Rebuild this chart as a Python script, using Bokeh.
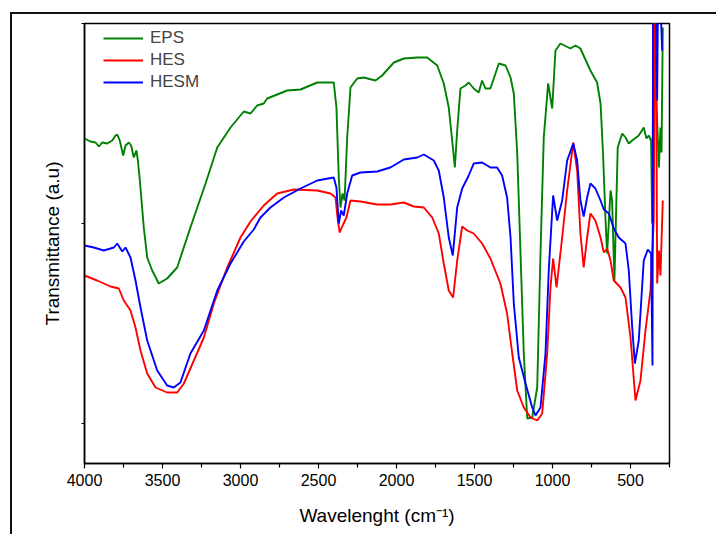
from bokeh.plotting import figure
from bokeh.models import Range1d, FixedTicker, Legend, CustomLabelingPolicy
from bokeh.embed import file_html
from bokeh.resources import INLINE

# ---- data (wavenumber cm-1, transmittance a.u.) ----
eps_wn = [4000, 3962, 3929, 3908, 3887, 3855, 3822, 3801, 3790, 3774, 3752, 3737, 3716, 3701, 3684, 3667,
          3658, 3645, 3620, 3598, 3566, 3524, 3470, 3406, 3321, 3224, 3149, 3064, 2979, 2936, 2893, 2851,
          2829, 2701, 2615, 2508, 2402, 2385, 2370, 2359, 2346, 2333, 2316, 2295, 2252, 2210, 2135, 2092,
          2017, 1953, 1867, 1803, 1739, 1697, 1665, 1643, 1626, 1611, 1590, 1558, 1537, 1505, 1473, 1451,
          1430, 1398, 1344, 1301, 1269, 1248, 1226, 1205, 1184, 1162, 1130, 1098, 1077, 1056, 1028, 1002,
          981, 949, 885, 853, 821, 757, 714, 692, 676, 660, 650, 628, 618, 603, 582, 553, 532, 511, 489,
          447, 415, 398, 383, 368, 361, 351, 343, 329, 318, 308, 301, 293]
eps_t = [28.5, 28.2, 28.1, 27.7, 28.1, 28.0, 28.3, 28.8, 28.9, 28.3, 26.8, 27.8, 28.1, 27.8, 26.6, 27.3,
         26.3, 24.3, 19.6, 16.6, 15.3, 14.0, 14.5, 15.6, 19.6, 24.0, 27.6, 29.6, 31.2, 31.0, 31.8, 32.0,
         32.5, 33.3, 33.4, 34.1, 34.1, 31.6, 24.6, 21.6, 23.0, 22.3, 28.6, 33.6, 34.5, 34.6, 34.3, 34.8,
         36.1, 36.5, 36.6, 36.6, 35.8, 34.0, 31.6, 28.3, 25.6, 29.3, 33.5, 33.8, 34.1, 33.5, 33.1, 34.3,
         33.5, 33.5, 36.0, 35.8, 34.6, 33.0, 27.0, 17.0, 7.0, 0.5, 0.6, 3.6, 17.0, 28.6, 34.0, 31.5,
         37.3, 38.0, 37.5, 37.8, 37.5, 35.3, 34.1, 32.0, 27.0, 20.3, 17.0, 23.3, 22.3, 14.3, 27.6, 29.0,
         28.6, 28.0, 28.3, 28.8, 29.6, 28.5, 28.8, 28.3, 20.0, 42.0, 36.0, 30.3, 25.6, 29.6, 27.1, 39.6]

hes_wn = [4000, 3919, 3833, 3780, 3748, 3705, 3673, 3641, 3598, 3545, 3470, 3406, 3363, 3299, 3235, 3171,
          3085, 3000, 2936, 2851, 2765, 2658, 2508, 2423, 2391, 2376, 2364, 2342, 2321, 2295, 2231, 2124,
          2039, 1953, 1889, 1825, 1771, 1729, 1697, 1665, 1637, 1611, 1579, 1547, 1505, 1451, 1398, 1334,
          1291, 1258, 1226, 1184, 1141, 1098, 1066, 1034, 1013, 996, 974, 938, 906, 867, 842, 821, 800,
          778, 757, 725, 692, 671, 650, 628, 607, 564, 532, 500, 468, 436, 404, 372, 351, 343, 337, 334,
          329, 318, 308, 293]
hes_t = [14.8, 14.3, 13.7, 13.5, 12.3, 11.3, 9.6, 7.3, 5.0, 3.6, 3.1, 3.1, 4.0, 6.3, 8.6, 12.0,
         15.6, 18.6, 20.2, 21.8, 23.0, 23.4, 23.3, 23.0, 22.6, 20.3, 19.1, 19.9, 20.6, 22.3, 22.2, 21.9,
         21.9, 22.1, 21.7, 21.6, 20.6, 19.0, 16.0, 13.3, 12.6, 16.3, 19.7, 19.3, 19.0, 18.0, 16.5, 14.0,
         11.0, 7.0, 3.3, 1.6, 0.6, 0.3, 1.0, 7.0, 13.6, 16.5, 13.6, 18.6, 23.3, 28.1, 25.3, 19.0, 15.6,
         18.6, 21.0, 20.3, 18.6, 17.1, 17.5, 16.3, 14.3, 13.6, 12.6, 8.6, 2.3, 4.3, 9.3, 13.3, 20.3, 44.0, 44.0, 32.0,
         14.0, 17.3, 14.8, 22.3]

hesm_wn = [4000, 3940, 3876, 3812, 3790, 3758, 3737, 3705, 3673, 3641, 3598, 3534, 3470, 3428, 3385, 3321,
           3235, 3149, 3064, 2979, 2915, 2872, 2808, 2722, 2615, 2508, 2402, 2385, 2370, 2355, 2338, 2316,
           2284, 2231, 2124, 2039, 1953, 1867, 1825, 1761, 1729, 1697, 1665, 1639, 1611, 1579, 1537, 1505,
           1451, 1398, 1355, 1323, 1291, 1269, 1248, 1216, 1173, 1130, 1109, 1077, 1045, 1024, 996, 970,
           938, 906, 867, 842, 821, 800, 778, 757, 725, 692, 671, 639, 607, 575, 532, 511, 489, 472, 447,
           415, 389, 368, 359, 355, 340, 329, 323, 315, 297]
hesm_t = [17.8, 17.6, 17.3, 17.6, 18.0, 17.2, 17.6, 16.6, 14.3, 11.6, 8.3, 5.3, 3.8, 3.6, 4.1, 7.0,
          9.3, 13.3, 16.0, 18.2, 19.4, 20.6, 21.6, 22.6, 23.5, 24.3, 24.6, 23.6, 20.0, 21.3, 20.8, 23.0,
          24.8, 25.1, 25.2, 25.6, 26.4, 26.6, 26.9, 26.3, 25.3, 22.6, 18.6, 16.8, 21.6, 23.5, 24.8, 26.0,
          26.1, 25.6, 25.6, 24.8, 22.6, 18.6, 12.0, 6.6, 4.0, 1.6, 0.8, 1.6, 7.0, 15.3, 22.8, 20.3,
          22.3, 26.3, 28.0, 26.3, 22.3, 20.7, 22.6, 24.0, 23.5, 22.3, 21.4, 21.0, 19.5, 18.6, 18.0, 15.3, 9.6, 6.0, 8.3,
          16.3, 17.4, 17.0, 5.8, 45.0, 45.0, 32.3, 45.0, 45.0, 37.3]

x_major = [4000, 3500, 3000, 2500, 2000, 1500, 1000, 500]
x_minor = [3750, 3250, 2750, 2250, 1750, 1250, 750, 250]
y_ticks = [0, 20, 40]

FONT = "Liberation Sans"

p = figure(output_backend="svg", toolbar_location=None,
           frame_width=585, frame_height=440,
           x_range=Range1d(4000, 250), y_range=Range1d(-4, 40),
           min_border_left=72, min_border_top=9, min_border_right=47, min_border_bottom=71)
p.margin = (12, 0, 0, 10)
p.styles = {"border-left": "2px solid #111", "border-top": "2px solid #111"}

p.xgrid.visible = False
p.ygrid.visible = False
p.background_fill_color = "white"
p.border_fill_color = "white"
p.outline_line_color = "black"
p.outline_line_width = 1.5
p.outline_line_alpha = 1

r1 = p.line(eps_wn, eps_t, line_color="#008000", line_width=1.9)
r2 = p.line(hes_wn, hes_t, line_color="#ff0000", line_width=1.9)
r3 = p.line(hesm_wn, hesm_t, line_color="#0000ff", line_width=1.9)

leg = Legend(items=[("EPS", [r1]), ("HES", [r2]), ("HESM", [r3])],
             location=(19, 371), margin=0, padding=0, spacing=2,
             glyph_width=40, glyph_height=20, label_standoff=7,
             label_text_font=FONT, label_text_font_size="17px",
             background_fill_alpha=0, border_line_alpha=0)
p.add_layout(leg)

xa = p.xaxis[0]
xa.ticker = FixedTicker(ticks=x_major, minor_ticks=x_minor)
xa.major_tick_in = 0
xa.major_tick_out = 5
xa.minor_tick_in = 0
xa.minor_tick_out = 4
xa.major_label_standoff = 5
xa.major_label_text_font = FONT
xa.major_label_text_font_size = "16px"
xa.major_label_text_color = "black"
xa.axis_line_width = 1.5
xa.major_tick_line_width = 1.2
xa.minor_tick_line_width = 1.2
xa.axis_label = "Wavelenght (cm\u207b\u00b9)"
xa.axis_label_text_font = FONT
xa.axis_label_text_font_size = "19px"
xa.axis_label_text_font_style = "normal"
xa.axis_label_text_color = "black"
xa.axis_label_standoff = 16

ya = p.yaxis[0]
ya.ticker = FixedTicker(ticks=y_ticks, minor_ticks=[])
ya.major_tick_in = 0
ya.major_tick_out = 3
ya.minor_tick_out = 0
ya.major_label_policy = CustomLabelingPolicy(code="return new indices.constructor(indices.size, 0)")
ya.major_label_standoff = 0
ya.axis_line_width = 1.5
ya.axis_label = "Transmittance (a.u)"
ya.axis_label_text_font = FONT
ya.axis_label_text_font_size = "19px"
ya.axis_label_text_font_style = "normal"
ya.axis_label_text_color = "black"
ya.axis_label_standoff = 3

open("out.html", "w").write(file_html(p, INLINE))
